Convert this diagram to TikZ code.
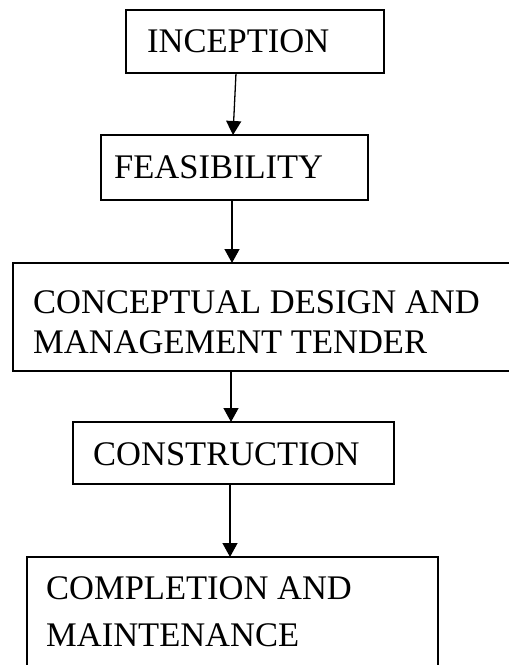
\documentclass[tikz,border=0pt]{standalone}
\usepackage{fontspec}
\setmainfont{Liberation Serif}
\usetikzlibrary{arrows.meta}
\begin{document}
\begin{tikzpicture}[x=1pt,y=-1pt,
  stage/.style={draw=black,line width=1.6pt,rectangle,anchor=north west,inner sep=0pt,outer sep=0pt},
  label/.style={anchor=base west,inner sep=0pt,font=\fontsize{34.5}{40}\selectfont},
  flow/.style={line width=1.3pt,-{Triangle[length=14pt,width=15pt]}}]
  \useasboundingbox (0,0) rectangle (509,665);
  \clip (0,0) rectangle (509,665);
  % boxes
  \node[stage,minimum width=258pt,minimum height=63pt] (b1) at (126,10) {};
  \node[stage,minimum width=267pt,minimum height=65pt] (b2) at (101,135) {};
  \node[stage,minimum width=517pt,minimum height=108pt] (b3) at (13,263) {};
  \node[stage,minimum width=321pt,minimum height=62pt] (b4) at (73,422) {};
  \node[stage,minimum width=411pt,minimum height=140pt] (b5) at (27,557) {};
  % texts
  \node[label] (t1) at (147,52) {INCEPTION};
  \node[label] (t2) at (114,178) {FEASIBILITY};
  \node[label] (t3a) at (33,313) {CONCEPTUAL DESIGN AND};
  \node[label] (t3b) at (33,353) {MANAGEMENT TENDER};
  \node[label] (t4) at (93,465) {CONSTRUCTION};
  \node[label] (t5a) at (46,599) {COMPLETION AND};
  \node[label] (t5b) at (46,646) {MAINTENANCE};
  % connectors
  \draw[flow] ([xshift=-19pt]b1.south) -- ([xshift=-1.5pt]b2.north);
  \draw[flow] ([xshift=-2.5pt]b2.south) -- ([xshift=-39.5pt]b3.north);
  \draw[flow] ([xshift=-40.5pt]b3.south) -- ([xshift=-2.5pt]b4.north);
  \draw[flow] ([xshift=-3.5pt]b4.south) -- ([xshift=-2.5pt]b5.north);
\end{tikzpicture}
\end{document}
